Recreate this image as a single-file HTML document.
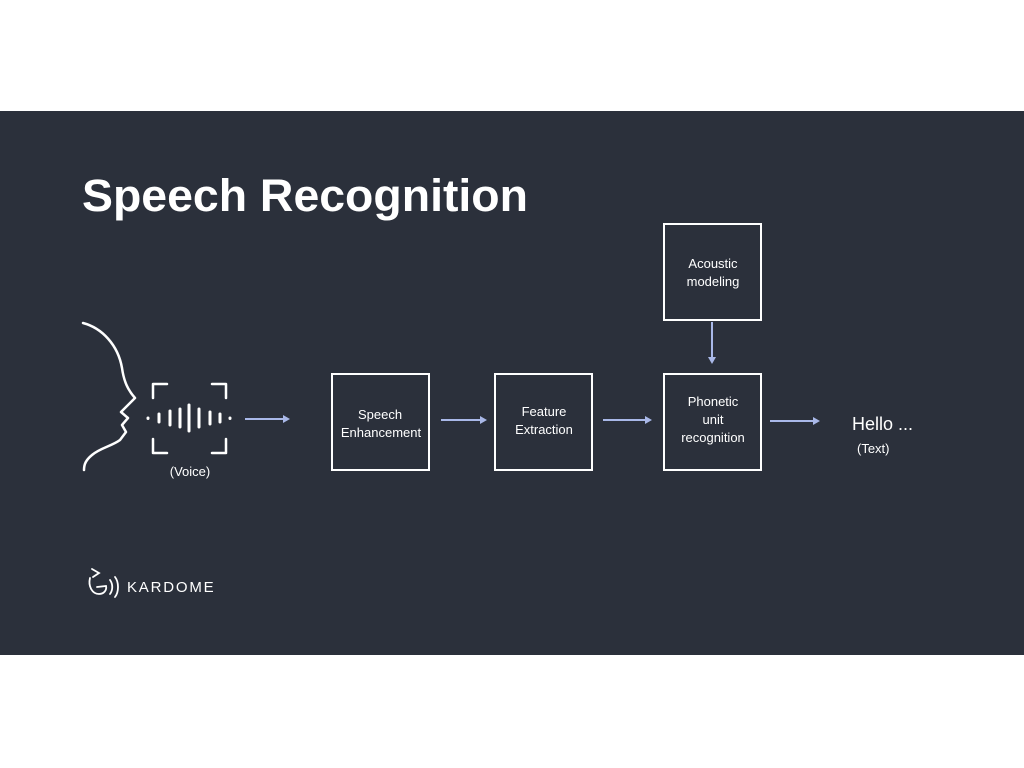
<!DOCTYPE html>
<html><head><meta charset="utf-8"><style>
html,body{margin:0;padding:0;background:#fff;width:1024px;height:768px;overflow:hidden}
svg{display:block}
text{font-family:"Liberation Sans",sans-serif;fill:#fff}
</style></head><body>
<svg width="1024" height="768" viewBox="0 0 1024 768">
<rect x="0" y="0" width="1024" height="768" fill="#fff"/>
<rect x="0" y="111" width="1024" height="544" fill="#2b303b"/>
<text x="82" y="211" font-size="45" font-weight="bold" textLength="446" lengthAdjust="spacingAndGlyphs">Speech Recognition</text>
<g fill="none" stroke="#fff" stroke-width="2.5" stroke-linecap="round" stroke-linejoin="round">
<path d="M83,323 C102,328 118,345 122,368 C124,382 128,390 135,398 L127,406 L121,412 L128,418 L122,425 L126,432 L120,440 C112,446 100,448 92,455 C86,460 84,464 84,470"/>
<path d="M153,398 L153,384 L167,384 M212,384 L226,384 L226,398 M153,439 L153,453 L167,453 M212,453 L226,453 L226,439"/>
</g>
<g fill="none" stroke="#fff" stroke-width="3" stroke-linecap="round">
<path d="M148,418 L148,418.5 M159,414 L159,422 M170,411 L170,425 M180,409 L180,427 M189,405 L189,431 M199,409 L199,427 M210,412 L210,424 M220,414 L220,422 M230,418 L230,418.5"/>
</g>
<text x="190" y="476" font-size="13" text-anchor="middle">(Voice)</text>
<g stroke="#a9b8e8" stroke-width="2" fill="#a9b8e8">
<line x1="245" y1="419" x2="284" y2="419"/><path d="M290,419 L283,415 L283,423 Z" stroke="none"/>
<line x1="441" y1="420" x2="481" y2="420"/><path d="M487,420 L480,416 L480,424 Z" stroke="none"/>
<line x1="603" y1="420" x2="646" y2="420"/><path d="M652,420 L645,416 L645,424 Z" stroke="none"/>
<line x1="770" y1="421" x2="814" y2="421"/><path d="M820,421 L813,417 L813,425 Z" stroke="none"/>
<line x1="712" y1="322" x2="712" y2="358"/><path d="M712,364 L708,357 L716,357 Z" stroke="none"/>
</g>
<g fill="none" stroke="#fff" stroke-width="2">
<rect x="332" y="374" width="97" height="96"/>
<rect x="495" y="374" width="97" height="96"/>
<rect x="664" y="374" width="97" height="96"/>
<rect x="664" y="224" width="97" height="96"/>
</g>
<g font-size="13" text-anchor="middle">
<text x="380" y="419">Speech</text><text x="381" y="437">Enhancement</text>
<text x="544" y="416">Feature</text><text x="544" y="434">Extraction</text>
<text x="713" y="406">Phonetic</text><text x="713" y="424">unit</text><text x="713" y="442">recognition</text>
<text x="713" y="268">Acoustic</text><text x="713" y="286">modeling</text>
</g>
<text x="852" y="430" font-size="18">Hello ...</text>
<text x="857" y="453" font-size="13">(Text)</text>
<g fill="none" stroke="#fff" stroke-width="1.8" stroke-linecap="round">
<path d="M92,569 L99,573 L93,577 M90,578 C88,586 92,594 99,594 C104,594 107,590 106,586 L97,587"/>
<path d="M110,580 C113,584 113,590 110,594 M115,577 C119,582 119,592 115,597"/>
</g>
<text x="127" y="592" font-size="15" letter-spacing="1.8">KARDOME</text>
</svg>
</body></html>
